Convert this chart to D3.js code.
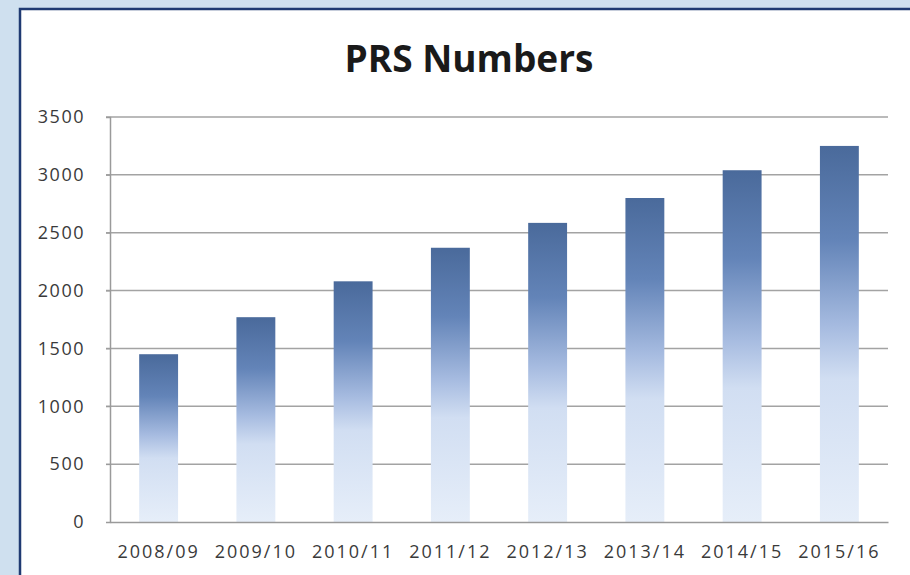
<!DOCTYPE html>
<html>
<head>
<meta charset="utf-8">
<script src="https://cdn.jsdelivr.net/npm/d3@7"></script>
<style>
  body { margin: 0; background: #cfe0ef; }
  svg { display: block; }
</style>
</head>
<body>
<svg id="chart" width="910" height="575"></svg>
<script>
var years = ["2008/09", "2009/10", "2010/11", "2011/12", "2012/13", "2013/14", "2014/15", "2015/16"]
var prsNumbers = [1450, 1770, 2080, 2370, 2585, 2800, 3040, 3250]
var yTicks = [0, 500, 1000, 1500, 2000, 2500, 3000, 3500]
var chartTitle = "PRS Numbers"

var svg = d3.select("#chart")

// white panel with the dark blue frame
svg.append("rect")
    .attr("x", 20).attr("y", 9)
    .attr("width", 920).attr("height", 600)
    .attr("fill", "white")
    .attr("stroke", "#1f3a72")
    .attr("stroke-width", 2.5)

var plotLeft = 110, plotRight = 888, plotTop = 117, plotBottom = 522

var x = d3.scaleBand()
    .domain(years)
    .range([plotLeft, plotRight])
    .paddingInner(0.6)
    .paddingOuter(0.3)

var y = d3.scaleLinear()
    .domain([0, 3500])
    .range([plotBottom, plotTop])

// gradient for the bars, dark on top
var defs = svg.append("defs")
var grad = defs.append("linearGradient")
    .attr("id", "barGrad")
    .attr("x1", 0).attr("y1", 0).attr("x2", 0).attr("y2", 1)
grad.append("stop").attr("offset", "0%").attr("stop-color", "#4a6a9b")
grad.append("stop").attr("offset", "25%").attr("stop-color", "#6384b8")
grad.append("stop").attr("offset", "48%").attr("stop-color", "#a6bbe0")
grad.append("stop").attr("offset", "62%").attr("stop-color", "#d1def2")
grad.append("stop").attr("offset", "100%").attr("stop-color", "#e6eef9")

// gridlines
svg.append("g")
    .selectAll("line")
    .data(yTicks.slice(1))
    .join("line")
    .attr("x1", plotLeft - 4)
    .attr("x2", plotRight)
    .attr("y1", d => y(d))
    .attr("y2", d => y(d))
    .attr("stroke", "#a3a3a3")
    .attr("stroke-width", 1.5)

// bars
svg.append("g")
    .selectAll("rect")
    .data(years)
    .join("rect")
    .attr("x", d => x(d))
    .attr("width", x.bandwidth())
    .attr("y", (d, i) => y(prsNumbers[i]))
    .attr("height", (d, i) => plotBottom - y(prsNumbers[i]))
    .attr("fill", "url(#barGrad)")

// y axis
var yAxis = svg.append("g")
    .attr("transform", "translate(" + plotLeft + ",0)")
    .call(d3.axisLeft(y).tickValues(yTicks).tickFormat(d3.format("d")).tickSize(4).tickPadding(21))
yAxis.select(".domain").attr("stroke", "#9a9a9a").attr("stroke-width", 1.5)
yAxis.selectAll(".tick line").attr("stroke", "#9a9a9a")
yAxis.selectAll("text")
    .attr("font-family", "Open Sans")
    .attr("font-size", 18)
    .attr("letter-spacing", 1.5)
    .attr("fill", "#3a3a3a")

// x axis
var xAxis = svg.append("g")
    .attr("transform", "translate(0," + plotBottom + ")")
    .call(d3.axisBottom(x).tickSize(0).tickPadding(23))
xAxis.select(".domain").attr("stroke", "#9a9a9a").attr("stroke-width", 1.5)
xAxis.selectAll("text")
    .attr("font-family", "Open Sans")
    .attr("font-size", 18)
    .attr("letter-spacing", 2)
    .attr("fill", "#3a3a3a")

// title
svg.append("text")
    .attr("x", 469)
    .attr("y", 72)
    .attr("text-anchor", "middle")
    .attr("font-family", "Open Sans")
    .attr("font-weight", "bold")
    .attr("font-size", 37)
    .attr("fill", "#1a1a1a")
    .text(chartTitle)
</script>
</body>
</html>
